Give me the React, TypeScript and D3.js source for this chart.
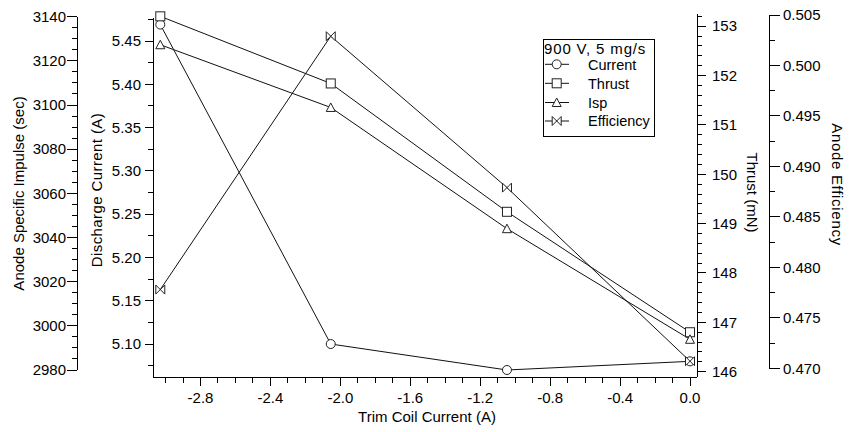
import React from "react";
import * as d3 from "d3";

// ---- data ----
const trimCurrent = [-3.03, -2.055, -1.047, 0.0];
const dischargeCurrent = [5.469, 5.1, 5.07, 5.08];
const thrust = [153.2, 151.84, 149.24, 146.8];
const isp = [3127.3, 3098.9, 3044.0, 2993.9];
const efficiency = [0.4778, 0.5029, 0.4879, 0.4707];

const xTicks = [-2.8, -2.4, -2.0, -1.6, -1.2, -0.8, -0.4, 0.0];
const currentTicks = [5.1, 5.15, 5.2, 5.25, 5.3, 5.35, 5.4, 5.45];
const ispTicks = [2980, 3000, 3020, 3040, 3060, 3080, 3100, 3120, 3140];
const thrustTicks = [146, 147, 148, 149, 150, 151, 152, 153];
const effTicks = [0.47, 0.475, 0.48, 0.485, 0.49, 0.495, 0.5, 0.505];

const legendTitle = "900 V, 5 mg/s";
const seriesNames = ["Current", "Thrust", "Isp", "Efficiency"];

const FONT = "'Liberation Sans', Arial, sans-serif";
const FS = 15;

function range(a: number, b: number, step: number) {
  const out: number[] = [];
  const n = Math.round((b - a) / step);
  for (let i = 0; i <= n; i++) out.push(+(a + i * step).toFixed(6));
  return out;
}
const hyph = (s: string) => s.replace("\u2212", "-");

type MarkerKind = "circle" | "square" | "triangle" | "bowtie";

function Marker({ kind, x, y }: { kind: MarkerKind; x: number; y: number }) {
  const s = 4.5;
  const common = { fill: "#fff", stroke: "#222", strokeWidth: 1 };
  if (kind === "circle") return <circle cx={x} cy={y} r={s} {...common} />;
  if (kind === "square")
    return <rect x={x - s} y={y - s} width={2 * s} height={2 * s} {...common} />;
  if (kind === "triangle")
    return (
      <path
        d={`M${x},${y - s} L${x + s},${y + 4} L${x - s},${y + 4} Z`}
        {...common}
      />
    );
  return (
    <path
      d={`M${x - s},${y - s} L${x + s},${y + s} L${x + s},${y - s} L${x - s},${y + s} Z`}
      {...common}
    />
  );
}

export default function App() {
  const left = 153.3;
  const right = 697.3;
  const bottom = 377;

  const x = d3.scaleLinear().domain([-3.07, 0.0417]).range([left, right]);
  const yCur = d3.scaleLinear().domain([5.0619, 5.4766]).range([bottom, 18]);
  const yIsp = d3.scaleLinear().domain([2980, 3140]).range([370, 16.7]);
  const yThr = d3.scaleLinear().domain([145.893, 153.247]).range([bottom, 14]);
  const yEff = d3.scaleLinear().domain([0.47, 0.505]).range([368.3, 15]);

  const fmt1 = d3.format(".1f");
  const fmt2 = d3.format(".2f");
  const fmt3 = d3.format(".3f");

  const xMinor = range(-3.0, 0.0, 0.1);
  const curMinor = range(5.075, 5.475, 0.025);
  const ispMinor = range(2980, 3140, 5);
  const thrMinor = range(146, 153.2, 0.2);
  const effMinor = range(0.47, 0.505, 0.0025);

  const lineGen = (ys: number[], yScale: d3.ScaleLinear<number, number>) =>
    d3
      .line<number>()
      .x((_, i) => x(trimCurrent[i]))
      .y((d) => yScale(d))(ys) as string;

  const series: {
    name: string;
    vals: number[];
    scale: d3.ScaleLinear<number, number>;
    kind: MarkerKind;
  }[] = [
    { name: seriesNames[0], vals: dischargeCurrent, scale: yCur, kind: "circle" },
    { name: seriesNames[1], vals: thrust, scale: yThr, kind: "square" },
    { name: seriesNames[2], vals: isp, scale: yIsp, kind: "triangle" },
    { name: seriesNames[3], vals: efficiency, scale: yEff, kind: "bowtie" },
  ];

  const ink = "#000";
  const textProps = { fontFamily: FONT, fontSize: FS, fill: ink };

  const ispAxisX = 77.3;
  const effAxisX = 769.3;

  const legendY = [64.3, 83.3, 102.5, 121];

  return (
    <div style={{ position: "absolute", left: 0, top: 0 }}>
      <svg width={849} height={432} style={{ display: "block", background: "#fff" }}>
        <rect x={0} y={0} width={849} height={432} fill="#fff" />
        {/* ---- axes ---- */}
        <g stroke={ink} strokeWidth={1} shapeRendering="crispEdges">
          <line x1={left} y1={18} x2={left} y2={bottom} />
          <line x1={left} y1={bottom} x2={right} y2={bottom} />
          <line x1={right} y1={14} x2={right} y2={bottom} />
          <line x1={ispAxisX} y1={yIsp(3140)} x2={ispAxisX} y2={yIsp(2980)} />
          <line x1={effAxisX} y1={yEff(0.505)} x2={effAxisX} y2={yEff(0.47)} />

          {xMinor.map((v) => (
            <line key={"xm" + v} x1={x(v)} x2={x(v)} y1={bottom} y2={bottom + 6} />
          ))}
          {xTicks.map((v) => (
            <line key={"xM" + v} x1={x(v)} x2={x(v)} y1={bottom} y2={bottom + 9} />
          ))}
          {curMinor.map((v) => (
            <line key={"cm" + v} x1={left - 5} x2={left} y1={yCur(v)} y2={yCur(v)} />
          ))}
          {currentTicks.map((v) => (
            <line key={"cM" + v} x1={left - 8} x2={left} y1={yCur(v)} y2={yCur(v)} />
          ))}
          {ispMinor.map((v) => (
            <line key={"im" + v} x1={ispAxisX - 5} x2={ispAxisX} y1={yIsp(v)} y2={yIsp(v)} />
          ))}
          {ispTicks.map((v) => (
            <line key={"iM" + v} x1={ispAxisX - 10} x2={ispAxisX} y1={yIsp(v)} y2={yIsp(v)} />
          ))}
          {thrMinor.map((v) => (
            <line key={"tm" + v} x1={right} x2={right + 5} y1={yThr(v)} y2={yThr(v)} />
          ))}
          {thrustTicks.map((v) => (
            <line key={"tM" + v} x1={right} x2={right + 9} y1={yThr(v)} y2={yThr(v)} />
          ))}
          {effMinor.map((v) => (
            <line key={"em" + v} x1={effAxisX} x2={effAxisX + 6} y1={yEff(v)} y2={yEff(v)} />
          ))}
          {effTicks.map((v) => (
            <line key={"eM" + v} x1={effAxisX} x2={effAxisX + 11} y1={yEff(v)} y2={yEff(v)} />
          ))}
        </g>

        {/* ---- tick labels ---- */}
        <g {...textProps}>
          {xTicks.map((v) => (
            <text key={"xl" + v} x={x(v)} y={403} textAnchor="middle">
              {hyph(fmt1(v))}
            </text>
          ))}
          {currentTicks.map((v) => (
            <text key={"cl" + v} x={141} y={yCur(v)} dy="0.35em" textAnchor="end">
              {fmt2(v)}
            </text>
          ))}
          {ispTicks.map((v) => (
            <text key={"il" + v} x={66} y={yIsp(v)} dy="0.35em" textAnchor="end">
              {v}
            </text>
          ))}
          {thrustTicks.map((v) => (
            <text key={"tl" + v} x={712} y={yThr(v)} dy="0.35em" textAnchor="start">
              {v}
            </text>
          ))}
          {effTicks.map((v) => (
            <text key={"el" + v} x={783} y={yEff(v)} dy="0.35em" textAnchor="start">
              {fmt3(v)}
            </text>
          ))}
        </g>

        {/* ---- axis titles ---- */}
        <g {...textProps}>
          <text x={427} y={422} textAnchor="middle">
            Trim Coil Current (A)
          </text>
          <text transform="translate(23.5,193.5) rotate(-90)" textAnchor="middle">
            Anode Specific Impulse (sec)
          </text>
          <text
            transform="translate(101.5,190) rotate(-90)"
            textAnchor="middle"
            letterSpacing={0.4}
          >
            Discharge Current (A)
          </text>
          <text transform="translate(746.5,192.5) rotate(90)" textAnchor="middle">
            Thrust (mN)
          </text>
          <text
            transform="translate(831.5,184.5) rotate(90)"
            textAnchor="middle"
            letterSpacing={0.7}
          >
            Anode Efficiency
          </text>
        </g>

        {/* ---- series ---- */}
        <g fill="none" stroke="#111" strokeWidth={1}>
          {series.map((s) => (
            <path key={"ln" + s.name} d={lineGen(s.vals, s.scale)} />
          ))}
        </g>
        <g>
          {series.map((s) =>
            s.vals.map((v, i) => (
              <Marker key={s.name + i} kind={s.kind} x={x(trimCurrent[i])} y={s.scale(v)} />
            ))
          )}
        </g>

        {/* ---- legend ---- */}
        <g>
          <rect
            x={543.5}
            y={39.5}
            width={110.5}
            height={96.5}
            fill="#fff"
            stroke={ink}
            strokeWidth={1}
            shapeRendering="crispEdges"
          />
          <text x={544} y={53.5} {...textProps} letterSpacing={0.85}>
            {legendTitle}
          </text>
          {series.map((s, i) => (
            <g key={"lg" + s.name}>
              <line x1={545} x2={569} y1={legendY[i]} y2={legendY[i]} stroke="#111" strokeWidth={1} />
              <Marker kind={s.kind} x={556.7} y={legendY[i]} />
              <text x={588} y={legendY[i]} dy="0.36em" {...textProps} fontSize={14.5}>
                {s.name}
              </text>
            </g>
          ))}
        </g>
      </svg>
    </div>
  );
}
